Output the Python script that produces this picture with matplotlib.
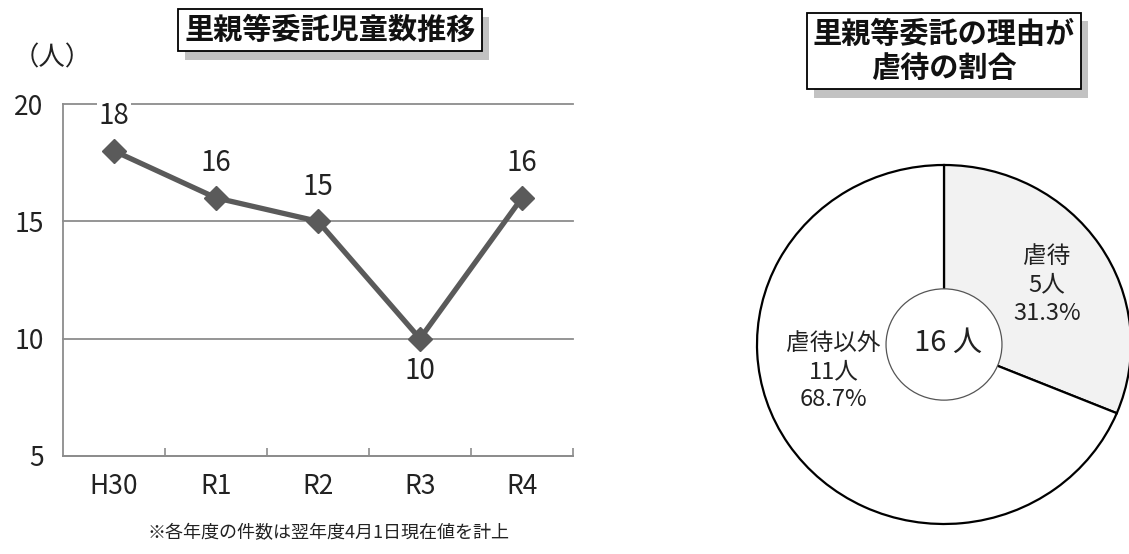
import numpy as np
import matplotlib
matplotlib.use('Agg')
from matplotlib import pyplot as plt
from matplotlib import patheffects as pe
from matplotlib.patches import Circle

plt.rcParams['font.family'] = ['Noto Sans CJK JP', 'DejaVu Sans']

# Data
years = ['H30', 'R1', 'R2', 'R3', 'R4']
counts = [18, 16, 15, 10, 16]
label_below = [False, False, False, True, False]

pie_labels = ['虐待', '虐待以外']
pie_counts = [5, 11]
pie_pcts = [31.3, 68.7]
pie_colors = ['#f2f2f2', '#ffffff']
total = sum(pie_counts)

W, H = 1129, 554
fig = plt.figure(figsize=(W / 100, H / 100), dpi=100)

def shadow_box(txt):
    txt.get_bbox_patch().set_path_effects(
        [pe.SimplePatchShadow(offset=(5, -6), shadow_rgbFace='#909090', alpha=0.55), pe.Normal()])

# Line chart
ax = fig.add_axes([63 / W, 1 - 456 / H, 510 / W, 352 / H])
x = np.arange(len(years))
ax.plot(x, counts, color='#5a5a5a', lw=3.8, marker='D', ms=12, zorder=2)
for xi, v, below in zip(x, counts, label_below):
    off = -23 if below else 25
    ax.annotate(str(v), (xi, v), xytext=(0, off), textcoords='offset points',
                ha='center', va='center', fontsize=20, color='#222222', zorder=1.5,
                bbox=dict(fc='white', ec='none', pad=1))

ax.set_xlim(-0.5, 4.5)
ax.set_ylim(5, 20)
ax.set_yticks([5, 10, 15, 20])
ax.set_xticks(x)
ax.set_xticklabels(years)
ax.set_xticks(np.arange(0.5, 5, 1), minor=True)
ax.tick_params(axis='x', which='major', length=0, pad=12, labelsize=19, labelcolor='#222222')
ax.tick_params(axis='x', which='minor', length=6, direction='in', color='#8c8c8c', width=1.2)
ax.tick_params(axis='y', length=0, pad=14, labelsize=19, labelcolor='#222222')
ax.set_axisbelow(True)
ax.yaxis.grid(True, color='#8c8c8c', lw=1.3, zorder=0.5)
for gl in ax.yaxis.get_gridlines():
    gl.set_clip_on(False)
for s in ['top', 'right']:
    ax.spines[s].set_visible(False)
for s in ['left', 'bottom']:
    ax.spines[s].set_color('#8c8c8c')
    ax.spines[s].set_linewidth(1.3)

fig.text(52 / W, 1 - 58 / H, '（人）', ha='center', va='center', fontsize=19, color='#222222')
t1 = fig.text(330 / W, 1 - 30 / H, '里親等委託児童数推移', ha='center', va='center',
              fontsize=21, fontweight='bold', color='#111111',
              bbox=dict(boxstyle='square,pad=0.22', fc='white', ec='black', lw=1.3))
shadow_box(t1)
fig.text(328 / W, 1 - 533 / H, '※各年度の件数は翌年度4月1日現在値を計上', ha='center', va='center',
         fontsize=13, color='#222222')

# Pie chart
ax2 = fig.add_axes([757 / W, 30 / H, 374 / W, 359 / H])
wedges, _ = ax2.pie(pie_counts, colors=pie_colors, startangle=90, counterclock=False,
                    radius=1, wedgeprops=dict(ec='black', lw=1.6))
for w in wedges:
    w.set_clip_on(False)
ax2.set_aspect('auto')
ax2.set_xlim(-1, 1)
ax2.set_ylim(-1, 1)
ax2.axis('off')
ax2.add_patch(Circle((0, 0), 0.31, fc='white', ec='#555555', lw=0.9, zorder=3))
ax2.text(0.02, 0.01, f'{total} 人', ha='center', va='center', fontsize=21, color='#222222', zorder=4)
label_pos = [(0.55, 0.33), (-0.59, -0.15)]
for (lx, ly), name, c, p in zip(label_pos, pie_labels, pie_counts, pie_pcts):
    ax2.text(lx, ly, f'{name}\n{c}人\n{p:.1f}%', ha='center', va='center',
             fontsize=17, color='#222222', linespacing=1.3, zorder=4)

t2 = fig.text(944 / W, 1 - 51 / H, '里親等委託の理由が\n虐待の割合', ha='center', va='center',
              fontsize=21, fontweight='bold', color='#111111', linespacing=1.2,
              bbox=dict(boxstyle='square,pad=0.2', fc='white', ec='black', lw=1.3))
shadow_box(t2)

fig.savefig('out.png', dpi=100)
